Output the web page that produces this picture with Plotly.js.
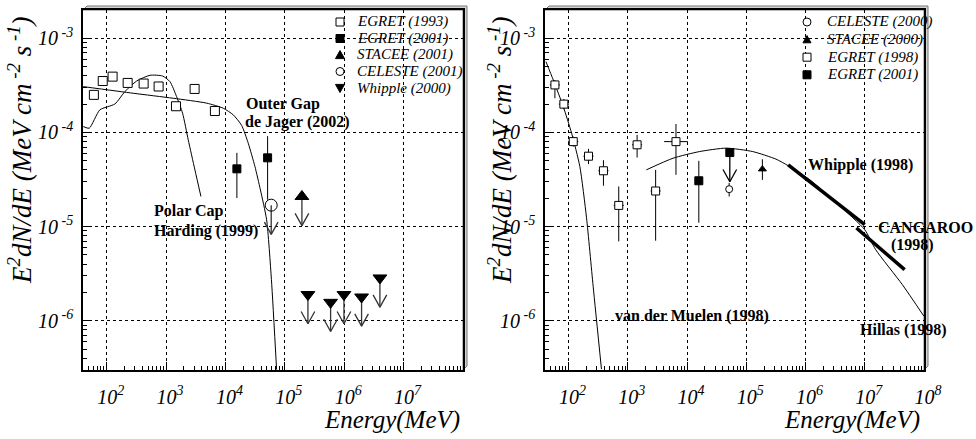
<!DOCTYPE html>
<html><head><meta charset="utf-8">
<script src="https://cdn.plot.ly/plotly-3.0.1.min.js"></script>
<style>html,body{margin:0;padding:0;background:#fff}#chart{width:976px;height:439px}#err{position:absolute;left:0;top:0;font:12px monospace;color:red;white-space:pre-wrap;width:900px}</style>
</head><body><div id="chart"></div><div id="err"></div>
<script>
window.onerror = function(m, s, l, c, e) { document.getElementById('err').textContent += 'ERR: ' + m + ' @' + l + ':' + c + '\n'; };
// ===================== DATA: left panel =====================
const egret93E = [61, 86, 126, 226, 420, 750, 1470, 3030, 6650];
const egret93F = [2.51e-4, 3.52e-4, 3.92e-4, 3.36e-4, 3.31e-4, 3.08e-4, 1.90e-4, 2.90e-4, 1.69e-4];

const egret01LE = [15600, 51300];
const egret01LF = [4.11e-5, 5.38e-5];
const egret01LHi = [6.08e-5, 9.14e-5];
const egret01LLo = [2.01e-5, 1.93e-5];

const stacee01E = [1.94e5];
const stacee01F = [2.09e-5];

const celeste01E = [59000];
const celeste01F = [1.69e-5];

const whipple00E = [2.45e5, 5.9e5, 9.9e5, 1.96e6, 3.99e6];
const whipple00F = [1.90e-6, 1.57e-6, 1.90e-6, 1.79e-6, 2.85e-6];

const hardingE = [40.4, 50.9, 77, 138, 203, 320, 536, 877, 1164, 1508, 1901, 2364, 3064, 3870];
const hardingF = [1.156e-4, 1.11e-4, 1.74e-4, 2.01e-4, 2.72e-4, 3.52e-4, 4.05e-4, 3.98e-4, 3.47e-4, 2.40e-4, 1.60e-4, 8.36e-5, 4.01e-5, 2.09e-5];

const deJagerE = [40.4, 281, 1321, 4826, 9190, 13530, 18740, 24200, 31400, 38800, 49400, 59500, 72700];
const deJagerF = [3.07e-4, 2.61e-4, 2.31e-4, 2.05e-4, 1.81e-4, 1.54e-4, 1.19e-4, 7.7e-5, 4.35e-5, 2.46e-5, 1.18e-5, 2.73e-6, 3.03e-7];

// ===================== DATA: right panel =====================
const celeste00E = [51400];
const celeste00F = [2.5e-5];
const celeste00Hi = [2.92e-5];
const celeste00Lo = [2.09e-5];

const stacee00E = [1.87e5];
const stacee00F = [4.08e-5];
const stacee00Hi = [5.2e-5];
const stacee00Lo = [3.14e-5];

const egret98E = [58.8, 83.3, 120, 217, 388, 703, 1435, 2950, 6500];
const egret98ELo = [48.4, 68.5, 98.7, 178, 319, 578, 1180, 2426, 4100];
const egret98EHi = [71.5, 101, 146, 264, 472, 855, 1745, 3587, 10300];
const egret98F = [3.2e-4, 2.0e-4, 8.0e-5, 5.6e-5, 3.92e-5, 1.68e-5, 7.4e-5, 2.39e-5, 8.0e-5];
const egret98Hi = [3.61e-4, 2.27e-4, 9.06e-5, 6.70e-5, 5.08e-5, 2.67e-5, 9.44e-5, 4.01e-5, 1.23e-4];
const egret98Lo = [2.31e-4, 1.76e-4, 7.08e-5, 4.61e-5, 2.72e-5, 6.97e-6, 5.42e-5, 7.09e-6, 3.55e-5];

const egret01RE = [15800];
const egret01RF = [3.07e-5];
const egret01RHi = [5.0e-5];
const egret01RLo = [1.1e-5];
const egret01RUlE = [52700];      // upper limit point
const egret01RUlF = [6.12e-5];

const vdmE = [41.5, 55.2, 81.4, 112.5, 155, 201, 260, 359];
const vdmF = [5.65e-4, 3.61e-4, 1.88e-4, 9.84e-5, 4.35e-5, 1.24e-5, 2.32e-6, 3.06e-7];

const hillasE = [2056, 5794, 16230, 45700, 128500, 317500, 511500, 1.186e6, 3.79e6, 1e7, 1.53e7, 4.31e7, 9.95e7];
const hillasF = [4.01e-5, 5.33e-5, 6.27e-5, 6.82e-5, 6.27e-5, 5.21e-5, 4.43e-5, 3.14e-5, 1.66e-5, 9.27e-6, 5.69e-6, 2.42e-6, 1.12e-6];

const whipple98E = [5.1e5, 1e7];
const whipple98F = [4.53e-5, 1.05e-5];
const cangarooE = [7.24e6, 4.71e7];
const cangarooF = [9.66e-6, 3.49e-6];

// tick labels
const xTickValsL = [1e2, 1e3, 1e4, 1e5, 1e6, 1e7];
const xTickTextL = ['10<sup>2</sup>', '10<sup>3</sup>', '10<sup>4</sup>', '10<sup>5</sup>', '10<sup>6</sup>', '10<sup>7</sup>'];
const xTickValsR = [1e2, 1e3, 1e4, 1e5, 1e6, 1e7, 1e8];
const xTickTextR = ['10<sup>2</sup>', '10<sup>3</sup>', '10<sup>4</sup>', '10<sup>5</sup>', '10<sup>6</sup>', '10<sup>7</sup>', '10<sup>8</sup>'];
const yTickVals = [1e-6, 1e-5, 1e-4, 1e-3];
const yTickText = ['10<sup> -6</sup>', '10<sup> -5</sup>', '10<sup> -4</sup>', '10<sup> -3</sup>'];

const legendL = ['EGRET (1993)', 'EGRET (2001)', 'STACEE (2001)', 'CELESTE (2001)', 'Whipple (2000)'];
const legendR = ['CELESTE (2000)', 'STACEE (2000)', 'EGRET (1998)', 'EGRET (2001)'];

// ===================== helpers / styling =====================
const W = 976, H = 439;
const px = x => x / W, py = y => 1 - y / H;
const FONT = 'Liberation Serif';

function minorLog(lo, hi) {
  const v = [];
  for (let e = lo; e <= hi; e++) for (let m = 2; m <= 9; m++) v.push(m * Math.pow(10, e));
  return v;
}
function diff(a, b) { return a.map((v, i) => v - b[i]); }

const ARROW_DEC = 0.31, HEAD_DX = 0.115, HEAD_DY = 0.13;
function arrowTrace(E, F, xa, ya, color) {
  const xs = [], ys = [];
  const kx = Math.pow(10, HEAD_DX), ky = Math.pow(10, HEAD_DY);
  for (let i = 0; i < E.length; i++) {
    const tip = F[i] * Math.pow(10, -ARROW_DEC);
    xs.push(E[i], E[i], null, E[i] / kx, E[i], E[i] * kx, null);
    ys.push(F[i], tip, null, tip * ky, tip, tip * ky, null);
  }
  return {type: 'scatter', x: xs, y: ys, xaxis: xa, yaxis: ya, mode: 'lines', line: {color: color || '#333', width: 1.3}, hoverinfo: 'skip', showlegend: false};
}
function markers(E, F, xa, ya, symbol, size, fill, extra) {
  return Object.assign({
    type: 'scatter', x: E, y: F, xaxis: xa, yaxis: ya, mode: 'markers', showlegend: false,
    marker: {symbol: symbol, size: size, color: fill, line: {color: 'black', width: 1}}
  }, extra || {});
}
function errY(F, Hi, Lo) {
  return {type: 'data', symmetric: false, array: diff(Hi, F), arrayminus: diff(F, Lo), color: 'black', thickness: 1, width: 0};
}
function curve(E, F, xa, ya, w) {
  return {type: 'scatter', x: E, y: F, xaxis: xa, yaxis: ya, mode: 'lines', line: {color: 'black', width: w || 1, shape: 'spline', smoothing: 0.6}, showlegend: false, hoverinfo: 'skip'};
}

const traces = [];
traces.push(curve(hardingE, hardingF, 'x', 'y'));
traces.push(curve(deJagerE, deJagerF, 'x', 'y'));
traces.push(markers(egret93E, egret93F, 'x', 'y', 'square', 9, 'white'));
traces.push(markers(egret01LE, egret01LF, 'x', 'y', 'square', 8, 'black', {error_y: errY(egret01LF, egret01LHi, egret01LLo)}));
traces.push(arrowTrace(stacee01E, stacee01F, 'x', 'y'));
traces.push(markers(stacee01E, stacee01F, 'x', 'y', 'triangle-up', 12, 'black'));
traces.push(arrowTrace(celeste01E, celeste01F, 'x', 'y'));
traces.push(markers(celeste01E, celeste01F, 'x', 'y', 'circle-open', 12, 'black'));
traces.push(arrowTrace(whipple00E, whipple00F, 'x', 'y'));
traces.push(markers(whipple00E, whipple00F, 'x', 'y', 'triangle-down', 12, 'black'));

traces.push(curve(vdmE, vdmF, 'x2', 'y2'));
traces.push(curve(hillasE, hillasF, 'x2', 'y2'));
traces.push({type: 'scatter', x: whipple98E, y: whipple98F, xaxis: 'x2', yaxis: 'y2', mode: 'lines', line: {color: 'black', width: 3.5}, showlegend: false});
traces.push({type: 'scatter', x: cangarooE, y: cangarooF, xaxis: 'x2', yaxis: 'y2', mode: 'lines', line: {color: 'black', width: 3.5}, showlegend: false});
traces.push(markers(egret98E, egret98F, 'x2', 'y2', 'square', 8, 'white', {
  error_y: errY(egret98F, egret98Hi, egret98Lo),
  error_x: {type: 'data', symmetric: false, array: diff(egret98EHi, egret98E), arrayminus: diff(egret98E, egret98ELo), color: 'black', thickness: 1, width: 0}
}));
traces.push(markers(egret01RE, egret01RF, 'x2', 'y2', 'square', 8, 'black', {error_y: errY(egret01RF, egret01RHi, egret01RLo)}));
traces.push(arrowTrace(egret01RUlE, egret01RUlF, 'x2', 'y2', 'black'));
traces.push(markers(egret01RUlE, egret01RUlF, 'x2', 'y2', 'square', 8, 'black'));
traces.push(markers(celeste00E, celeste00F, 'x2', 'y2', 'circle', 7, 'white', {error_y: errY(celeste00F, celeste00Hi, celeste00Lo)}));
traces.push(markers(stacee00E, stacee00F, 'x2', 'y2', 'triangle-up', 7, 'black', {error_y: errY(stacee00F, stacee00Hi, stacee00Lo)}));

// ---- manual legends: keys as layout shapes, labels as annotations
const shapes = [];
const annotations = [];
function keyShape(kind, cx, cy, s, fill) {
  const h = s / 2;
  const base = {xref: 'paper', yref: 'paper', layer: 'above', line: {color: 'black', width: 1}, fillcolor: fill};
  if (kind === 'square') return Object.assign(base, {type: 'rect', x0: px(cx - h), x1: px(cx + h), y0: py(cy + h), y1: py(cy - h)});
  if (kind === 'circle') return Object.assign(base, {type: 'circle', x0: px(cx - h), x1: px(cx + h), y0: py(cy + h), y1: py(cy - h)});
  const up = kind === 'tri-up';
  const ty = up ? cy - h : cy + h, by = up ? cy + h * 0.8 : cy - h * 0.8;
  return Object.assign(base, {type: 'path', path: `M${px(cx)},${py(ty)} L${px(cx + h)},${py(by)} L${px(cx - h)},${py(by)} Z`});
}
const legKeysL = [['square', 8, 'white'], ['square', 8, 'black'], ['tri-up', 9, 'black'], ['circle', 8, 'white'], ['tri-down', 9, 'black']];
const legKeysR = [['circle', 8, 'white'], ['tri-up', 8, 'black'], ['square', 8, 'white'], ['square', 8, 'black']];
const LEG_L = {mx: 340, tx: 355, y0: 22, dy: 16.5};
const LEG_R = {mx: 807, tx: 825, y0: 22, dy: 17.6};
function addLegend(keys, labels, cfg) {
  keys.forEach((k, i) => {
    const yy = cfg.y0 + i * cfg.dy;
    shapes.push(keyShape(k[0], cfg.mx, yy, k[1], k[2]));
    annotations.push({xref: 'paper', yref: 'paper', x: px(cfg.tx), y: py(yy), xanchor: 'left', yanchor: 'middle', showarrow: false,
      text: '<i>' + labels[i] + '</i>', font: {family: FONT, size: 15, color: 'black'}});
  });
}
addLegend(legKeysL, legendL, LEG_L);
addLegend(legKeysR, legendR, LEG_R);

function label(text, x, y, size) {
  annotations.push({xref: 'paper', yref: 'paper', x: px(x), y: py(y), xanchor: 'left', yanchor: 'middle', showarrow: false,
    text: '<b>' + text + '</b>', font: {family: FONT, size: size || 16, color: 'black'}});
}
label('Outer Gap', 244, 104);
label('de Jager (2002)', 243, 122);
label('Polar Cap', 152, 211);
label('Harding (1999)', 152, 231);
label('Whipple (1998)', 806, 165);
label('CANGAROO', 876, 227);
label('(1998)', 889, 245);
label('van der Muelen (1998)', 613, 316);
label('Hillas (1998)', 858, 330);

const ytitle = '<i>E<sup>2</sup>dN/dE (MeV cm<sup> -2</sup> s<sup> -1</sup>)</i>';
[[20, 150], [500, 150]].forEach(p => annotations.push({xref: 'paper', yref: 'paper', x: px(p[0]), y: py(p[1]), xanchor: 'center', yanchor: 'middle',
  showarrow: false, textangle: -90, text: ytitle, font: {family: FONT, size: 27, color: 'black'}}));
[462, 922].forEach(xr => annotations.push({xref: 'paper', yref: 'paper', x: px(xr), y: py(420), xanchor: 'right', yanchor: 'middle',
  showarrow: false, text: '<i>Energy(MeV)</i>', font: {family: FONT, size: 25, color: 'black'}}));

function frameBand(l, r, t, b) {
  const d = 4;
  return {type: 'path', xref: 'paper', yref: 'paper', layer: 'below',
    path: `M${px(l)},${py(t)} L${px(l + d)},${py(t - d)} L${px(r + d)},${py(t - d)} L${px(r + d)},${py(b - d)} L${px(r)},${py(b)} L${px(r)},${py(t)} Z`,
    fillcolor: '#d4d4d4', line: {color: '#777', width: 1}};
}
shapes.push(frameBand(83, 463, 10, 370), frameBand(545, 924, 10, 370));

const yDomain = [py(370), py(10)];
function logAxis(range, tv, tt, domain, anchor, minorVals, standoff, shift) {
  return {
    type: 'log', range: range, domain: domain, anchor: anchor,
    tickmode: 'array', tickvals: tv, ticktext: tt,
    showline: true, linecolor: 'black', linewidth: 1.5, mirror: true,
    ticks: 'inside', ticklen: 8, tickwidth: 1, tickcolor: 'black',
    showgrid: true, gridcolor: 'black', griddash: 'dot', gridwidth: 1, zeroline: false,
    tickfont: {family: FONT, size: 20, color: 'black'},
    ticklabelstandoff: standoff, ticklabelshift: shift,
    minor: {tickmode: 'array', tickvals: minorVals, ticks: 'inside', ticklen: 4, tickcolor: 'black', showgrid: false}
  };
}
const xRange = [Math.log10(40), 8];
const yRange = [Math.log10(3e-7), Math.log10(2e-3)];
const minorX = minorLog(1, 7), minorY = minorLog(-7, -3);

const layout = {
  width: W, height: H, margin: {l: 0, r: 0, t: 0, b: 0},
  paper_bgcolor: 'white', plot_bgcolor: 'white', showlegend: false,
  xaxis: logAxis(xRange, xTickValsL, xTickTextL.map(t => '<i>' + t + '</i>'), [px(83), px(463)], 'y', minorX, 8, 4),
  yaxis: logAxis(yRange, yTickVals, yTickText.map(t => '<i>' + t + '</i>'), yDomain, 'x', minorY, 4, 0),
  xaxis2: logAxis(xRange, xTickValsR, xTickTextR.map(t => '<i>' + t + '</i>'), [px(545), px(924)], 'y2', minorX, 8, 4),
  yaxis2: logAxis(yRange, yTickVals, yTickText.map(t => '<i>' + t + '</i>'), yDomain, 'x2', minorY, 4, 0),
  shapes: shapes,
  annotations: annotations
};

Plotly.newPlot('chart', traces, layout, {displayModeBar: false})
  .catch(e => { document.getElementById('err').textContent += 'PROMISE: ' + e; });
</script></body></html>
